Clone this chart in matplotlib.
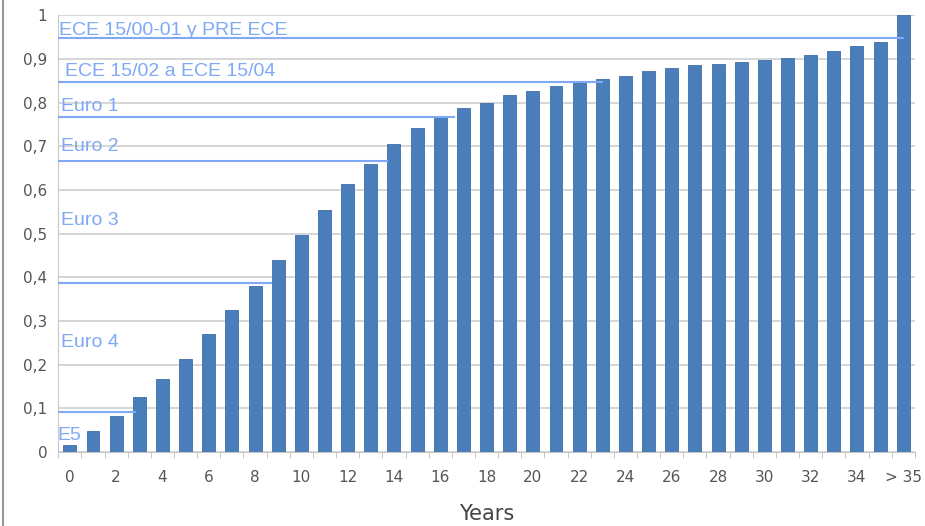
import numpy as np
import matplotlib.pyplot as plt

# Survival share by vehicle age
years = [str(i) for i in range(36)] + ["> 35"]
share = [0.015, 0.047, 0.083, 0.125, 0.166, 0.213, 0.270, 0.326, 0.380, 0.440,
         0.497, 0.553, 0.613, 0.660, 0.706, 0.742, 0.768, 0.787, 0.800, 0.817,
         0.826, 0.838, 0.845, 0.854, 0.861, 0.872, 0.879, 0.886, 0.888, 0.893,
         0.897, 0.902, 0.908, 0.918, 0.929, 0.938, 1.000]

# Emission standard thresholds: (label, level, last bar index reached)
norm_names  = ["ECE 15/00-01 y PRE ECE", "ECE 15/02 a ECE 15/04",
               "Euro 1", "Euro 2", "Euro 3", "Euro 4", "E5"]
norm_levels = [0.947, 0.847, 0.767, 0.666, None, 0.387, 0.092]
norm_ends   = [36.0, 23.0, 16.6, 13.7, None, 8.7, 2.8]
label_y     = [0.965, 0.872, 0.792, 0.700, 0.530, 0.250, 0.038]
label_dx    = [0.0, 0.25, 0.05, 0.05, 0.05, 0.05, -0.1]

BAR_COLOR  = "#4a7ebb"
NORM_COLOR = "#7fa8f5"

fig = plt.figure(figsize=(9.25, 5.26), dpi=100)
ax = fig.add_axes([0.063, 0.141, 0.926, 0.830])

x = np.arange(len(years))
ax.bar(x, share, width=0.56, color=BAR_COLOR, edgecolor="#3f6fa8",
       linewidth=0.6, zorder=3)

x0 = -0.45
for name, lvl, end, ly, dx in zip(norm_names, norm_levels, norm_ends,
                                  label_y, label_dx):
    if lvl is not None:
        ax.plot([x0, end], [lvl, lvl], color=NORM_COLOR, lw=1.5, zorder=4)
    ax.text(x0 + dx, ly, name, color=NORM_COLOR, fontsize=14,
            family="Liberation Sans", ha="left", va="center", zorder=5)

ax.set_xlim(-0.5, 36.5)
ax.set_ylim(0, 1)
ax.set_yticks(np.arange(0, 1.01, 0.1))
ax.set_yticklabels(["0"] + [f"0,{i}" for i in range(1, 10)] + ["1"])
ax.set_xticks(x[::2])
ax.set_xticklabels([years[i] for i in x[::2]])
ax.set_xticks(np.arange(-0.5, 37, 1), minor=True)
ax.tick_params(axis="x", which="major", length=0, pad=13,
               labelsize=11, labelcolor="#555555")
ax.tick_params(axis="x", which="minor", length=4, color="#bbbbbb")
ax.tick_params(axis="y", length=0, pad=8, labelsize=11, labelcolor="#555555")

ax.grid(axis="y", color="#cfcfcf", lw=1.2, zorder=0)
for side in ["top", "right"]:
    ax.spines[side].set_visible(False)
ax.spines["left"].set_color("#c8c8c8")
ax.spines["bottom"].set_color("#c8c8c8")

ax.set_xlabel("Years", fontsize=15, color="#444444", labelpad=14)

# thin frame on the left edge
fig.add_artist(plt.Line2D([0.003, 0.003], [0, 1], color="#999999", lw=1.5))

fig.savefig("out.png", dpi=100)
